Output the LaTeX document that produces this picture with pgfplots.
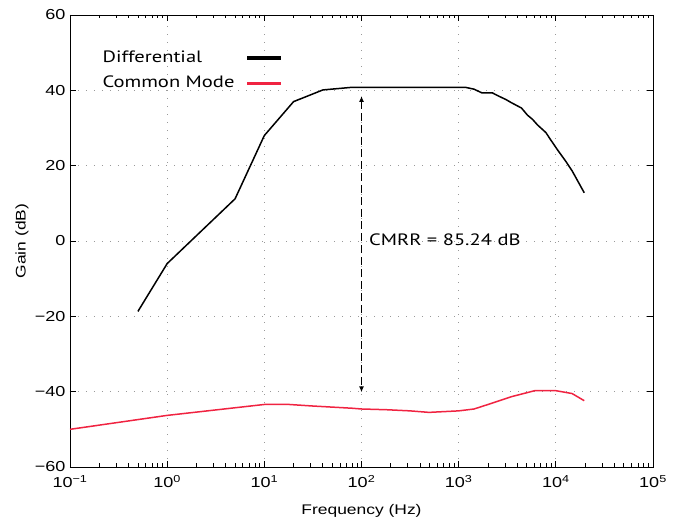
\documentclass[border=0pt]{standalone}
\usepackage{fontspec}
\setmainfont{Liberation Sans}[FakeStretch=1.25]
\newfontfamily\legfont{PT Sans}[FakeStretch=1.25]
\usepackage{pgfplots}
\pgfplotsset{compat=1.18}
\usetikzlibrary{arrows.meta}
\definecolor{cmred}{RGB}{240,35,65}

\begin{document}
\begin{tikzpicture}[x=1bp,y=1bp]
\useasboundingbox (-70,-56) rectangle (607,467);
\begin{axis}[
  at={(0,0)}, anchor=south west, scale only axis,
  width=583bp, height=452bp,
  xmode=log, xmin=0.1, xmax=1e5, ymin=-60, ymax=60,
  xtick={0.1,1,10,100,1000,10000,100000},
  xticklabels={10\textsuperscript{−1},10\textsuperscript{0},10\textsuperscript{1},10\textsuperscript{2},10\textsuperscript{3},10\textsuperscript{4},10\textsuperscript{5}},
  ytick={-60,-40,-20,0,20,40,60},
  yticklabels={−60,−40,−20,0,20,40,60},
  minor y tick num=0,
  tick align=inside, major tick length=6bp, minor tick length=3.5bp,
  xmajorgrids, ymajorgrids,
  grid style={dash pattern=on 1bp off 7bp, gray!80, line width=0.8bp},
  axis line style={line width=0.9bp},
  every tick/.style={black, line width=0.8bp},
  tick label style={font=\fontsize{14.5}{17}\selectfont},
  xticklabel style={yshift=-5bp},
  yticklabel style={xshift=-1bp},
  label style={font=\fontsize{14}{17}\selectfont},
  xlabel={Frequency (Hz)}, ylabel={Gain (dB)},
  xlabel style={at={(axis description cs:0.5,-0.0973)}, anchor=center},
  ylabel style={at={(axis description cs:-0.0823,0.5)}, anchor=center},
  legend plot pos=right, legend cell align=left,
  legend image code/.code={\draw[#1, line width=3.8bp] (0bp,-1bp) -- (34bp,-1bp);},
  legend style={font=\legfont\fontsize{16.5}{19}\selectfont, draw=none, fill=none,
    at={(axis description cs:0.047,0.93)}, anchor=north west, row sep=8bp, column sep=9bp},
]
\addplot[black, line width=1.5bp] coordinates {
 (0.5,-18.7) (1,-6) (5,11.2) (10,28) (20,37) (40,40.1) (80,40.8)
 (1000,40.8) (1170,40.8) (1440,40.3) (1740,39.3) (2230,39.3) (2610,38.4)
 (3040,37.6) (3440,36.8) (3870,36.1) (4430,35.3) (5110,33.4) (5750,32.3)
 (6480,30.8) (7890,28.8) (8880,26.8) (10400,24.2) (12700,21.1) (14800,18.5)
 (19600,12.8)
};
\addlegendentry{Differential}
\addplot[cmred, line width=1.5bp] coordinates {
 (0.1,-50) (1,-46.3) (10,-43.4) (18,-43.4) (31,-43.8) (80,-44.4) (100,-44.6)
 (183,-44.8) (316,-45.1) (495,-45.5) (1000,-45.1) (1440,-44.6) (2240,-43)
 (3530,-41.3) (6150,-39.7) (9800,-39.7) (14700,-40.5) (19600,-42.4)
};
\addlegendentry{Common Mode}
\draw[dash pattern=on 8bp off 4bp, line width=1.5bp,
  {Latex[length=6bp,width=5bp]}-{Latex[length=6bp,width=5bp]}]
  (axis cs:100,38.5) -- (axis cs:100,-40.2);
\node[anchor=base west, inner sep=0pt, font=\legfont\fontsize{16.5}{19}\selectfont]
  at (axis cs:119,-1.3) {CMRR = 85.24 dB};
\end{axis}
\end{tikzpicture}
\end{document}
